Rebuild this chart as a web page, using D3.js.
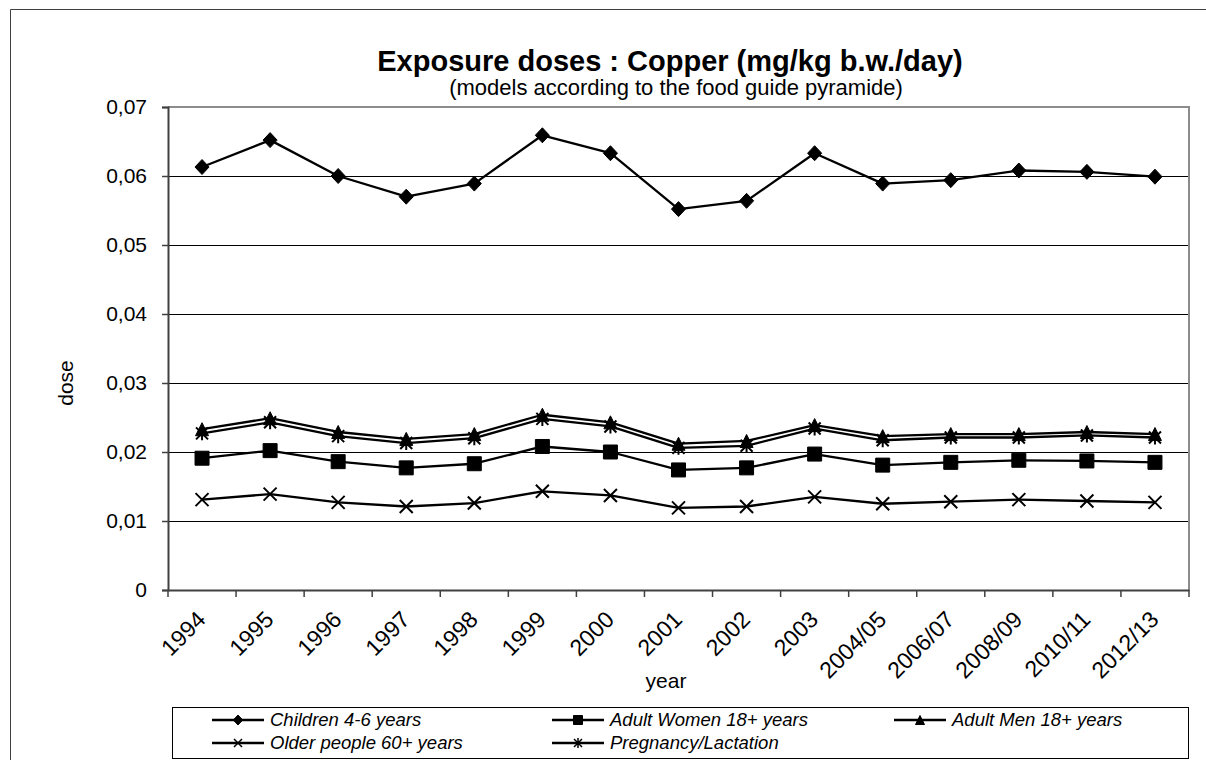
<!DOCTYPE html>
<html>
<head>
<meta charset="utf-8">
<title>Exposure doses : Copper</title>
<script src="https://cdnjs.cloudflare.com/ajax/libs/d3/7.8.5/d3.min.js"></script>
<style>
  body { margin: 0; background: #fff; }
  svg { display: block; font-family: "Liberation Sans", Arial, sans-serif; }
</style>
</head>
<body>
<svg id="chart" width="1206" height="760"></svg>
<script>
/* global d3*/
// values
var years = ["1994", "1995", "1996", "1997", "1998", "1999", "2000", "2001", "2002", "2003",
             "2004/05", "2006/07", "2008/09", "2010/11", "2012/13"];
var children = [0.0613, 0.0652, 0.0600, 0.0570, 0.0589, 0.0659, 0.0633, 0.0552, 0.0564, 0.0633,
                0.0589, 0.0594, 0.0608, 0.0606, 0.0599];
var women = [0.0191, 0.0202, 0.0186, 0.0177, 0.0183, 0.0208, 0.0200, 0.0174, 0.0177, 0.0197,
             0.0181, 0.0185, 0.0188, 0.0187, 0.0185];
var men = [0.0233, 0.0249, 0.0229, 0.0219, 0.0226, 0.0254, 0.0243, 0.0212, 0.0216, 0.0239,
           0.0223, 0.0226, 0.0226, 0.0229, 0.0226];
var older = [0.0131, 0.0139, 0.0127, 0.0121, 0.0126, 0.0143, 0.0137, 0.0119, 0.0121, 0.0135,
             0.0125, 0.0128, 0.0131, 0.0129, 0.0127];
var pregnancy = [0.0227, 0.0243, 0.0223, 0.0213, 0.0220, 0.0248, 0.0237, 0.0206, 0.0209, 0.0234,
                 0.0217, 0.0221, 0.0221, 0.0224, 0.0221];
var yTicks = [0, 0.01, 0.02, 0.03, 0.04, 0.05, 0.06, 0.07];
var seriesNames = ["Children 4-6 years", "Adult Women 18+ years", "Adult Men 18+ years",
                   "Older people 60+ years", "Pregnancy/Lactation"];

// marker shapes, size = full height in px
var diamond = {draw: function (c, s) {
    var h = s / 2, w = s * 0.47;
    c.moveTo(0, -h); c.lineTo(w, 0); c.lineTo(0, h); c.lineTo(-w, 0); c.closePath();
}};
var square = {draw: function (c, s) {
    c.rect(-s / 2, -s / 2, s, s);
}};
var triangle = {draw: function (c, s) {
    c.moveTo(0, -s / 2); c.lineTo(s * 0.5, s / 2); c.lineTo(-s * 0.5, s / 2); c.closePath();
}};
var cross = {draw: function (c, s) {
    var h = s / 2;
    c.moveTo(-h, -h); c.lineTo(h, h); c.moveTo(h, -h); c.lineTo(-h, h);
}};
var star = {draw: function (c, s) {
    var h = s / 2;
    c.moveTo(-h, -h); c.lineTo(h, h); c.moveTo(h, -h); c.lineTo(-h, h);
    c.moveTo(0, -h - 1); c.lineTo(0, h + 1);
}};

var series = [
    {name: seriesNames[0], values: children, type: diamond, size: 15, legendSize: 10, filled: true},
    {name: seriesNames[1], values: women, type: square, size: 14, legendSize: 9, filled: true},
    {name: seriesNames[2], values: men, type: triangle, size: 13, legendSize: 9, filled: true},
    {name: seriesNames[3], values: older, type: cross, size: 13, legendSize: 8, filled: false},
    {name: seriesNames[4], values: pregnancy, type: star, size: 12, legendSize: 8, filled: false}
];

var svg = d3.select("#chart"),
    margin = {top: 107, right: 17, bottom: 170, left: 168},
    width = +svg.attr("width") - margin.left - margin.right,
    height = +svg.attr("height") - margin.top - margin.bottom;

var x = d3.scaleBand().domain(years).range([0, width]),
    y = d3.scaleLinear().domain([0, 0.07]).range([height, 0]);

// outer chart border (right and bottom fall outside the picture)
svg.append("path")
    .attr("d", "M10.5,770V9.5H1220")
    .attr("fill", "none")
    .attr("stroke", "#404040")
    .attr("stroke-width", 1);

// titles
svg.append("text")
    .attr("x", 670)
    .attr("y", 71)
    .attr("text-anchor", "middle")
    .style("font-size", "29px")
    .style("font-weight", "bold")
    .text("Exposure doses : Copper (mg/kg b.w./day)");

svg.append("text")
    .attr("x", 676)
    .attr("y", 95)
    .attr("text-anchor", "middle")
    .style("font-size", "22px")
    .text("(models according to the food guide pyramide)");

var g = svg.append("g")
    .attr("transform", "translate(" + margin.left + "," + margin.top + ")");

// gridlines
g.append("g")
    .selectAll("line")
    .data(yTicks.filter(function (t) { return t > 0 && t < 0.07; }))
    .enter().append("line")
    .attr("x1", 0)
    .attr("x2", width)
    .attr("y1", function (d) { return Math.round(y(d)) + 0.5; })
    .attr("y2", function (d) { return Math.round(y(d)) + 0.5; })
    .attr("stroke", "#000")
    .attr("stroke-width", 1);

// plot frame top and right (grey)
g.append("path")
    .attr("d", "M0," + y(0.07) + "H" + width + "V" + height)
    .attr("fill", "none")
    .attr("stroke", "#8c8c8c")
    .attr("stroke-width", 2);

// y axis
var yAxis = g.append("g")
    .attr("class", "axis axis--y")
    .call(d3.axisLeft(y)
        .tickValues(yTicks)
        .tickSize(6)
        .tickPadding(15)
        .tickFormat(function (d) {
            return d === 0 ? "0" : d3.format(".2f")(d).replace(".", ",");
        }));
yAxis.selectAll("text")
    .style("font-size", "21px")
    .style("font-family", "Liberation Sans, Arial, sans-serif")
    .attr("fill", "#000");

// x axis labels, ticks sit on the category borders like in Excel
var xAxis = g.append("g")
    .attr("class", "axis axis--x")
    .attr("transform", "translate(0," + height + ")")
    .call(d3.axisBottom(x).tickSize(0));
xAxis.selectAll(".tick text")
    .attr("x", 0)
    .attr("y", 0)
    .attr("dy", 0)
    .attr("transform", "translate(5,31) rotate(-45)")
    .style("text-anchor", "end")
    .style("font-size", "23px")
    .style("font-family", "Liberation Sans, Arial, sans-serif")
    .attr("fill", "#000");
xAxis.selectAll(".border-tick")
    .data(d3.range(years.length + 1))
    .enter().append("line")
    .attr("class", "border-tick")
    .attr("x1", function (i) { return i * x.step(); })
    .attr("x2", function (i) { return i * x.step(); })
    .attr("y1", 0)
    .attr("y2", 7)
    .attr("stroke", "#404040")
    .attr("stroke-width", 1.5);

svg.selectAll(".axis .domain")
    .attr("stroke", "#404040")
    .attr("stroke-width", 2);
svg.selectAll(".axis--y .tick line")
    .attr("stroke", "#404040")
    .attr("stroke-width", 1.5);

// axis titles
svg.append("text")
    .attr("transform", "translate(73,383) rotate(-90)")
    .attr("text-anchor", "middle")
    .style("font-size", "21px")
    .text("dose");

svg.append("text")
    .attr("x", 666)
    .attr("y", 688)
    .attr("text-anchor", "middle")
    .style("font-size", "21px")
    .text("year");

// lines and markers
var line = d3.line()
    .x(function (d, i) { return x(years[i]) + x.bandwidth() / 2; })
    .y(function (d) { return y(d); });

series.forEach(function (s) {
    g.append("path")
        .datum(s.values)
        .attr("d", line)
        .attr("fill", "none")
        .attr("stroke", "#000")
        .attr("stroke-width", 2.3)
        .attr("stroke-linejoin", "round");

    g.selectAll(null)
        .data(s.values)
        .enter().append("path")
        .attr("transform", function (d, i) {
            return "translate(" + (x(years[i]) + x.bandwidth() / 2) + "," + y(d) + ")";
        })
        .attr("d", d3.symbol().type(s.type).size(s.size))
        .attr("fill", s.filled ? "#000" : "none")
        .attr("stroke", "#000")
        .attr("stroke-width", s.filled ? 1 : 2);
});

// legend
var legendPos = [[212, 720], [552, 720], [894, 720], [212, 743], [552, 743]];

svg.append("rect")
    .attr("x", 172.5)
    .attr("y", 707.5)
    .attr("width", 1016)
    .attr("height", 51)
    .attr("fill", "#fff")
    .attr("stroke", "#000")
    .attr("stroke-width", 1);

var legend = svg.selectAll(".legend")
    .data(series)
    .enter().append("g")
    .attr("class", "legend")
    .attr("transform", function (d, i) {
        return "translate(" + legendPos[i][0] + "," + legendPos[i][1] + ")";
    });

legend.append("line")
    .attr("x1", 0)
    .attr("x2", 52)
    .attr("stroke", "#000")
    .attr("stroke-width", 2.5);

legend.append("path")
    .attr("transform", "translate(26,0)")
    .attr("d", function (d) { return d3.symbol().type(d.type).size(d.legendSize)(); })
    .attr("fill", function (d) { return d.filled ? "#000" : "none"; })
    .attr("stroke", "#000")
    .attr("stroke-width", function (d) { return d.filled ? 1 : 1.5; });

legend.append("text")
    .attr("x", 58)
    .attr("dy", "0.35em")
    .style("font-size", "18.5px")
    .style("font-style", "italic")
    .text(function (d) { return d.name; });
</script>
</body>
</html>
